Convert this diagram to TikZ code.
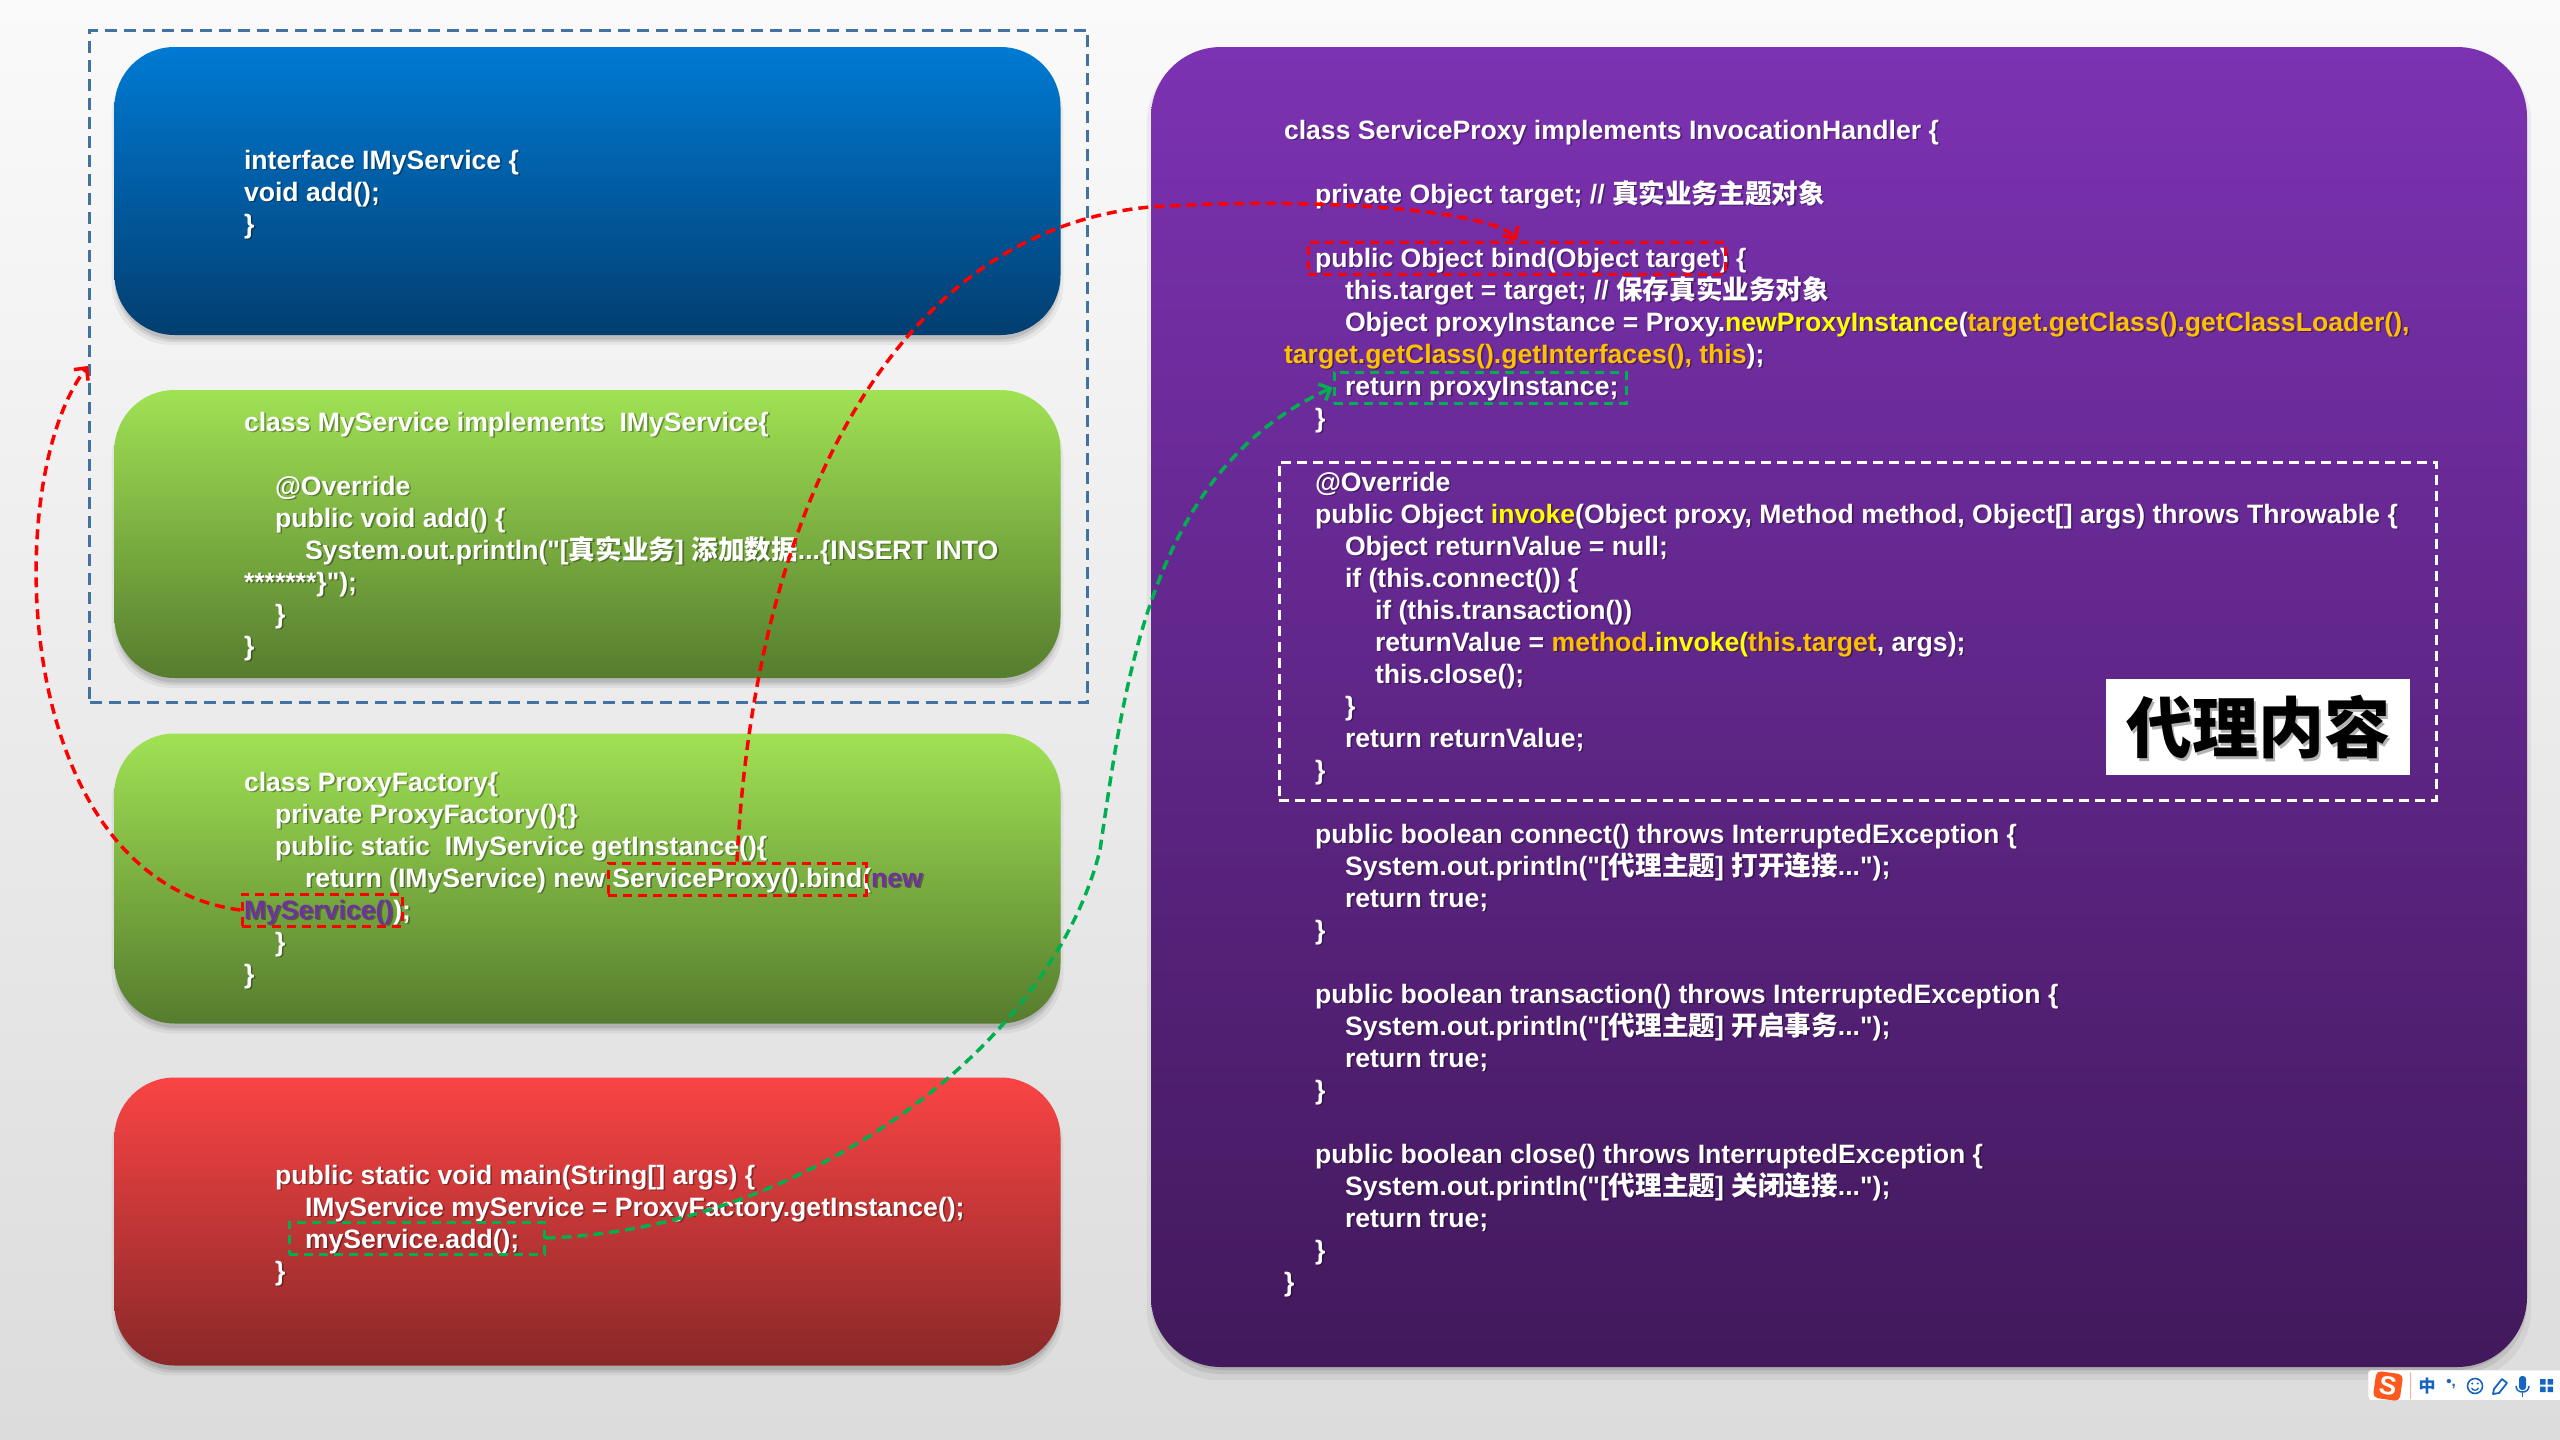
\documentclass[tikz,border=0pt]{standalone}
\usepackage{fontspec}
\setmainfont{Liberation Sans}
\newfontfamily\codefont{Liberation Sans}
\newfontfamily\cjk{Noto Sans CJK SC}
\usetikzlibrary{arrows.meta,shadows}
\definecolor{bgtop}{RGB}{250,250,250}
\definecolor{bgbot}{RGB}{220,220,220}
\definecolor{bluetop}{RGB}{0,122,212}
\definecolor{bluemid}{RGB}{0,102,180}
\definecolor{bluebot}{RGB}{2,62,112}
\definecolor{greentop}{RGB}{160,226,84}
\definecolor{greenmid}{RGB}{140,200,72}
\definecolor{greenbot}{RGB}{86,124,46}
\definecolor{redtop}{RGB}{250,68,68}
\definecolor{redmid}{RGB}{230,60,60}
\definecolor{redbot}{RGB}{138,40,40}
\definecolor{purptop}{RGB}{124,50,178}
\definecolor{purpbot}{RGB}{66,25,92}
\definecolor{grpblue}{RGB}{68,114,160}
\definecolor{colRed}{RGB}{255,0,0}
\definecolor{colGreen}{RGB}{0,176,80}
\definecolor{codepurple}{RGB}{112,48,160}
\definecolor{codeyellow}{RGB}{255,255,0}
\definecolor{codegold}{RGB}{255,192,0}
\definecolor{sgblue}{RGB}{21,101,192}
\definecolor{sgorange}{RGB}{255,88,30}
\newcommand\cf{\codefont\fontsize{26.6}{32}\selectfont\bfseries}
\newcommand\cz[1]{{\cjk #1}}
\newcommand\cpurp[1]{\textcolor{codepurple}{#1}}
\newcommand\cyel[1]{\textcolor{codeyellow}{#1}}
\newcommand\cgold[1]{\textcolor{codegold}{#1}}
\newcommand\shadowarg[1]{#1}
\newcommand\plainmode{\let\cpurp\shadowarg\let\cyel\shadowarg\let\cgold\shadowarg}
\newcommand\cl[4]{\node[cshadow] (#1s) at ({#2+1.6},{#3+1.6}) {#4};\node[cline] (#1) at (#2,#3) {#4};}
\newcommand\pl[4]{\node[cshadow] (#1s) at ({#2+1.6},{140.6+32*#3}) {#4};\node[cline] (#1) at (#2,{139+32*#3}) {#4};}
\tikzset{
  cline/.style={anchor=base west, inner sep=0pt, outer sep=0pt, text=white, font=\cf},
  cshadow/.style={anchor=base west, inner sep=0pt, outer sep=0pt, text=black, text opacity=0.35, font=\cf\plainmode},
  softshadow/.style={
    general shadow={shadow yshift=-9pt, fill=black, opacity=0.05, shadow scale=1.006},
    general shadow={shadow yshift=-7pt, fill=black, opacity=0.08},
    general shadow={shadow yshift=-5pt, fill=black, opacity=0.10, shadow scale=0.997}},
  codebox/.style={rectangle, rounded corners=60pt, inner sep=0pt, minimum width=946pt, minimum height=288pt, softshadow},
  grpbox/.style={rectangle, draw=grpblue, line width=3pt, dash pattern=on 12pt off 7pt, inner sep=0pt},
  whitebox/.style={rectangle, draw=white, line width=3pt, dash pattern=on 10pt off 6pt, inner sep=0pt},
  redhl/.style={rectangle, draw=colRed, line width=3pt, dash pattern=on 9pt off 6pt, inner sep=0pt},
  greenhl/.style={rectangle, draw=colGreen, line width=3pt, dash pattern=on 9pt off 6pt, inner sep=0pt},
  redconn/.style={draw=colRed, line width=3.5pt, dash pattern=on 10pt off 6pt, -{Straight Barb[length=9pt,width=18pt]}},
  greenconn/.style={draw=colGreen, line width=3.5pt, dash pattern=on 10pt off 6pt, -{Straight Barb[length=9pt,width=18pt]}},
  labelbox/.style={rectangle, fill=white, inner sep=0pt, minimum width=304pt, minimum height=96pt},
  labeltext/.style={inner sep=0pt, font=\cjk\bfseries\fontsize{66}{66}\selectfont},
  sgicon/.style={draw=sgblue, line width=2pt},
}
\begin{document}
\begin{tikzpicture}[x=1pt,y=-1pt]
\useasboundingbox (0,0) rectangle (2560,1440);
\fill[top color=bgtop, bottom color=bgbot] (0,0) rectangle (2560,1440);

% left group
\node[grpbox, minimum width=998pt, minimum height=672pt] (grp) at (588.5,366) {};
\node[codebox, top color=bluetop, middle color=bluemid, bottom color=bluebot] (blue) at (587.5,191) {};
\node[codebox, top color=greentop, middle color=greenmid, bottom color=greenbot] (green1) at (587.5,534) {};
\node[codebox, top color=greentop, middle color=greenmid, bottom color=greenbot, minimum height=290pt] (green2) at (587.5,878.5) {};
\node[codebox, top color=redtop, middle color=redmid, bottom color=redbot] (redbox) at (587.5,1221.5) {};
\node[codebox, top color=purptop, bottom color=purpbot, minimum width=1376pt, minimum height=1320pt, rounded corners=70pt] (purple) at (1839,707) {};

% blue box text
\cl{b1}{244}{169}{interface IMyService \{}
\cl{b2}{244}{201}{void add();}
\cl{b3}{244}{233}{\}}

% green box 1 text
\cl{ga}{244}{431}{class MyService implements\ \ IMyService\{}
\cl{gb}{275}{495}{@Override}
\cl{gc}{275}{527}{public void add() \{}
\cl{gd}{305}{559}{System.out.println("[\cz{真实业务}] \cz{添加数据}...\{INSERT INTO}
\cl{ge}{244}{591}{*******\}");}
\cl{gf}{275}{623}{\}}
\cl{gg}{244}{655}{\}}

% green box 2 text
\cl{pa}{244}{791}{class ProxyFactory\{}
\cl{pb}{275}{823}{private ProxyFactory()\{\}}
\cl{pc}{275}{855}{public static\ \ IMyService getInstance()\{}
\cl{pd}{305}{887}{return (IMyService) new ServiceProxy().bind(\cpurp{new}}
\cl{pe}{244}{919}{\cpurp{MyService()});}
\cl{pf}{275}{951}{\}}
\cl{pg}{244}{983}{\}}

% red box text
\cl{ra}{275}{1184}{public static void main(String[] args) \{}
\cl{rb}{305}{1216}{IMyService myService = ProxyFactory.getInstance();}
\cl{rc}{305}{1248}{myService.add();}
\cl{rd}{275}{1280}{\}}

% purple box text
\pl{q00}{1284}{0}{class ServiceProxy implements InvocationHandler \{}
\pl{q02}{1315}{2}{private Object target; // \cz{真实业务主题对象}}
\pl{q04}{1315}{4}{public Object bind(Object target) \{}
\pl{q05}{1345}{5}{this.target = target; // \cz{保存真实业务对象}}
\pl{q06}{1345}{6}{Object proxyInstance = Proxy.\cyel{newProxyInstance}(\cgold{target.getClass().getClassLoader(),}}
\pl{q07}{1284}{7}{\cgold{target.getClass().getInterfaces(), this});}
\pl{q08}{1345}{8}{return proxyInstance;}
\pl{q09}{1315}{9}{\}}
\pl{q11}{1315}{11}{@Override}
\pl{q12}{1315}{12}{public Object \cyel{invoke}(Object proxy, Method method, Object[] args) throws Throwable \{}
\pl{q13}{1345}{13}{Object returnValue = null;}
\pl{q14}{1345}{14}{if (this.connect()) \{}
\pl{q15}{1375}{15}{if (this.transaction())}
\pl{q16}{1375}{16}{returnValue = \cgold{method}\cyel{.invoke(}\cgold{this.target}, args);}
\pl{q17}{1375}{17}{this.close();}
\pl{q18}{1345}{18}{\}}
\pl{q19}{1345}{19}{return returnValue;}
\pl{q20}{1315}{20}{\}}
\pl{q22}{1315}{22}{public boolean connect() throws InterruptedException \{}
\pl{q23}{1345}{23}{System.out.println("[\cz{代理主题}] \cz{打开连接}...");}
\pl{q24}{1345}{24}{return true;}
\pl{q25}{1315}{25}{\}}
\pl{q27}{1315}{27}{public boolean transaction() throws InterruptedException \{}
\pl{q28}{1345}{28}{System.out.println("[\cz{代理主题}] \cz{开启事务}...");}
\pl{q29}{1345}{29}{return true;}
\pl{q30}{1315}{30}{\}}
\pl{q32}{1315}{32}{public boolean close() throws InterruptedException \{}
\pl{q33}{1345}{33}{System.out.println("[\cz{代理主题}] \cz{关闭连接}...");}
\pl{q34}{1345}{34}{return true;}
\pl{q35}{1315}{35}{\}}
\pl{q36}{1284}{36}{\}}

% dashed white box and label
\node[whitebox, minimum width=1157pt, minimum height=338pt] (invokebox) at (1857.5,631) {};
\node[labelbox] (lbl) at (2258,727) {};
\node[labeltext, text=black, text opacity=0.3] (lbltexts) at (2260.5,730.5) {代理内容};
\node[labeltext, text=black] (lbltext) at (2258,727) {代理内容};

% highlight boxes
\node[redhl, minimum width=258pt, minimum height=32pt] (hlproxy) at (737,879) {};
\node[redhl, minimum width=160pt, minimum height=32pt] (hlmys) at (322,910) {};
\node[redhl, minimum width=417pt, minimum height=32pt] (hlbind) at (1516.5,258) {};
\node[greenhl, minimum width=255pt, minimum height=32pt] (hladd) at (416.5,1238) {};
\node[greenhl, minimum width=292pt, minimum height=31pt] (hlret) at (1480,387.5) {};

% connectors
\draw[redconn] (hlmys.west) .. controls (10,880) and (0,480) .. (grp.west);
\draw[redconn] (hlproxy.north) .. controls (755,500) and (900,230) .. (1150,207) .. controls (1350,195) and (1500,215) .. (hlbind.north);
\draw[greenconn] (hladd.east) .. controls (800,1230) and (1050,1050) .. (1100,850) .. controls (1125,680) and (1150,470) .. (hlret.west);

% input method toolbar
\node[rectangle, draw=black!15, fill=white, rounded corners=3pt, minimum width=200pt, minimum height=30pt, inner sep=0pt, anchor=north west] (sgbar) at (2368,1370) {};
\node[rectangle, fill=sgorange, rounded corners=5pt, minimum size=27pt, inner sep=0pt, rotate=-8, text=white, font=\bfseries\fontsize{26}{26}\selectfont] (sglogo) at (2388,1386) {S};
\draw[sgorange!50, line width=1pt] (2410,1372) -- (2410,1399);
\node[inner sep=0pt, text=sgblue, font=\cjk\bfseries\fontsize{17}{17}\selectfont] (sgzh) at (2427,1386) {中};
\node[inner sep=0pt, text=sgblue, font=\bfseries\fontsize{15}{15}\selectfont] (sgpt) at (2451,1384) {•,};
\draw[sgicon, line width=1.6pt] (2475,1386) circle (7.5);
\fill[sgblue] (2472.3,1383.5) circle (1.1) (2477.7,1383.5) circle (1.1);
\draw[sgblue, line width=1.3pt] (2471.5,1388) .. controls (2473,1391) and (2477,1391) .. (2478.5,1388);
\draw[sgicon, line width=1.8pt, line join=round] (2493,1394) -- (2494,1389) -- (2502,1379) -- (2507,1383) -- (2499,1393) -- cycle;
\fill[sgblue, rounded corners=3pt] (2519,1376) rectangle (2526,1390);
\draw[sgblue, line width=1.5pt] (2516,1386) .. controls (2516,1394) and (2529,1394) .. (2529,1386);
\draw[sgblue, line width=1.5pt] (2522.5,1393) -- (2522.5,1397);
\fill[sgblue] (2540,1379) rectangle (2545.5,1384.5) (2547.5,1379) rectangle (2553,1384.5) (2540,1386.5) rectangle (2545.5,1392) (2547.5,1386.5) rectangle (2553,1392);
\end{tikzpicture}
\end{document}
